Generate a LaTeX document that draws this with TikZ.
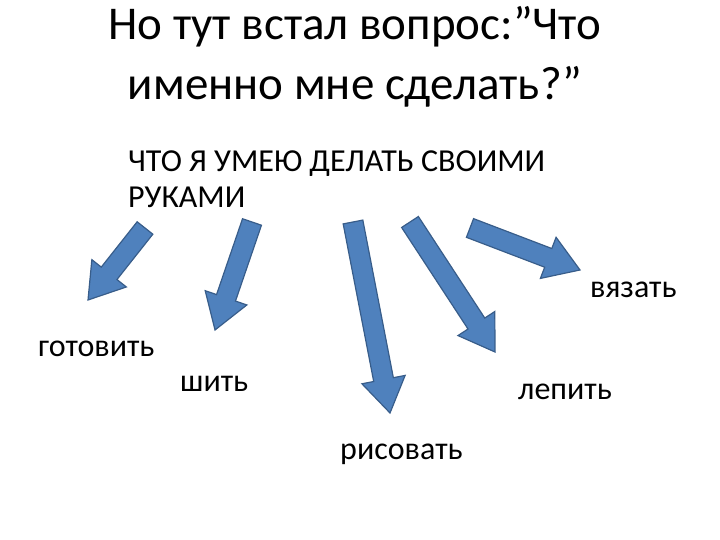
\documentclass[tikz,border=0pt]{standalone}
\usepackage{fontspec}
\setmainfont{Carlito}
\tikzset{blockarr/.style={draw={rgb,255:red,56;green,93;blue,138}, fill={rgb,255:red,79;green,129;blue,189}, line width=1.2pt, line join=miter},
 lbl/.style={anchor=base west, inner sep=0pt, font=\fontsize{32}{38}\selectfont}}
\newcommand\barrow[4]{%
 \pgfmathsetmacro\ang{atan2(-(#4-#2),#3-#1)}%
 \pgfmathsetmacro\len{veclen(#3-#1,#4-#2)}%
 \draw[blockarr, shift={(#1,540-#2)}, rotate=\ang] (0,-10) -- (\len-34,-10) -- (\len-34,-22) -- (\len,0) -- (\len-34,22) -- (\len-34,10) -- (0,10) -- cycle;}
\begin{document}
\begin{tikzpicture}[x=1pt,y=1pt]
\useasboundingbox (0,0) rectangle (720,540);
\node[anchor=base, inner sep=0pt, font=\fontsize{47}{56}\selectfont] (t1) at (355,540-40) {Но тут встал вопрос:”Что};
\node[anchor=base, inner sep=0pt, font=\fontsize{47}{56}\selectfont] (t2) at (355,540-100) {именно мне сделать?”};
\node[lbl] (q1) at (128,540-172) {ЧТО Я УМЕЮ ДЕЛАТЬ СВОИМИ};
\node[lbl] (q2) at (128,540-208) {РУКАМИ};
\barrow{145}{228}{88}{300}
\barrow{252}{222}{215}{330}
\barrow{353}{222}{390}{413}
\barrow{410}{222}{495}{352}
\barrow{470}{228}{580}{270}
\node[lbl] (a1) at (38,540-357) {готовить};
\node[lbl] (a2) at (180,540-392) {шить};
\node[lbl] (a3) at (340,540-460) {рисовать};
\node[lbl] (a4) at (518,540-400) {лепить};
\node[lbl] (a5) at (590,540-298) {вязать};
\end{tikzpicture}
\end{document}
